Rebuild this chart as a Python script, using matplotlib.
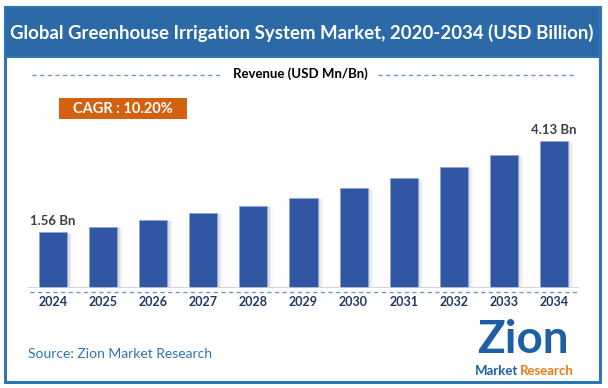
import matplotlib
matplotlib.use("Agg")
import matplotlib.pyplot as plt
import matplotlib.patches as patches

# data
years = ["2024", "2025", "2026", "2027", "2028", "2029", "2030", "2031", "2032", "2033", "2034"]
revenue = [1.56, 1.71, 1.91, 2.11, 2.30, 2.53, 2.81, 3.09, 3.40, 3.74, 4.13]
first_label = "1.56 Bn"
last_label = "4.13 Bn"
cagr_text = "CAGR : 10.20%"

FRAME = "#2E75B6"
BANNER = "#2B6AA6"
BAR = "#3157A4"
NAVY = "#1F3864"
ORANGE = "#D2620F"
DASH = "#6F95D6"

plt.rcParams["font.family"] = ["Lato", "DejaVu Sans"]

W, H = 608, 388
fig = plt.figure(figsize=(W / 100, H / 100), dpi=100)

# overlay for frame / text, in pixel coords
ov = fig.add_axes([0, 0, 1, 1])
ov.set_xlim(0, W)
ov.set_ylim(H, 0)
ov.axis("off")

ov.add_patch(patches.Rectangle((5, 7), 595, 375, fill=False, edgecolor=FRAME, lw=2.2))
ov.add_patch(patches.Rectangle((5, 7), 595, 50, facecolor=BANNER, edgecolor=FRAME, lw=1.5))
ov.text(302, 33, "Global Greenhouse Irrigation System Market, 2020-2034 (USD Billion)",
        color="white", fontsize=13.4, fontweight="bold", ha="center", va="center")

ov.plot([32, 222], [75, 75], color=DASH, lw=1, dashes=(3, 2.5))
ov.plot([378, 575], [75, 75], color=DASH, lw=1, dashes=(3, 2.5))
ov.text(300, 74, "Revenue (USD Mn/Bn)", color="black", fontsize=9.5, fontweight="bold",
        ha="center", va="center")

ov.add_patch(patches.Rectangle((59, 98), 128, 21, facecolor=ORANGE, edgecolor="none"))
ov.text(123, 109, cagr_text, color="white", fontsize=10.5, fontweight="bold",
        ha="center", va="center")

ov.plot([30, 578], [292, 292], color=DASH, lw=1, dashes=(3, 2.5))

ov.text(28, 354, "Source: Zion Market Research", color=FRAME, fontsize=10,
        ha="left", va="center")

# logo approximation
ov.text(523, 340, "Zion", color="#1D5FA5", fontsize=33, fontweight="bold",
        ha="center", va="center")
ov.text(497, 371, "Market", color="#1D5FA5", fontsize=9.5, fontweight="bold",
        ha="center", va="center")
ov.text(547, 371, "Research", color="#E97B17", fontsize=9.5, fontweight="bold",
        ha="center", va="center")

# bars
ax = fig.add_axes([28 / W, (H - 288) / H, 551 / W, 188 / H])
ax.set_xlim(-0.5, len(years) - 0.5)
ax.set_ylim(0, 188 / 35.6)
x = list(range(len(years)))
for k, a in [(0.05, 0.10), (0.08, 0.07), (0.11, 0.04)]:
    ax.bar([i + k for i in x], [v - 0.03 for v in revenue], width=0.56,
           color="#555555", alpha=a, zorder=1)
ax.bar(x, revenue, width=0.56, color=BAR, edgecolor="#8EA6D6", lw=0.6, zorder=2)
ax.axhline(0, color="#D0D0D0", lw=1.2, zorder=3)
ax.text(0, revenue[0] + 0.15, first_label, ha="center", va="bottom",
        fontsize=9.5, fontweight="bold", color="#404040")
ax.text(len(years) - 1, revenue[-1] + 0.15, last_label, ha="center", va="bottom",
        fontsize=9.5, fontweight="bold", color="#404040")
ax.set_xticks(x)
ax.set_xticklabels(years, fontsize=9, fontweight="bold", color=NAVY)
ax.tick_params(axis="x", length=0, pad=6)
ax.set_yticks([])
for s in ax.spines.values():
    s.set_visible(False)
ax.patch.set_alpha(0)

fig.savefig("out.png", dpi=100)
